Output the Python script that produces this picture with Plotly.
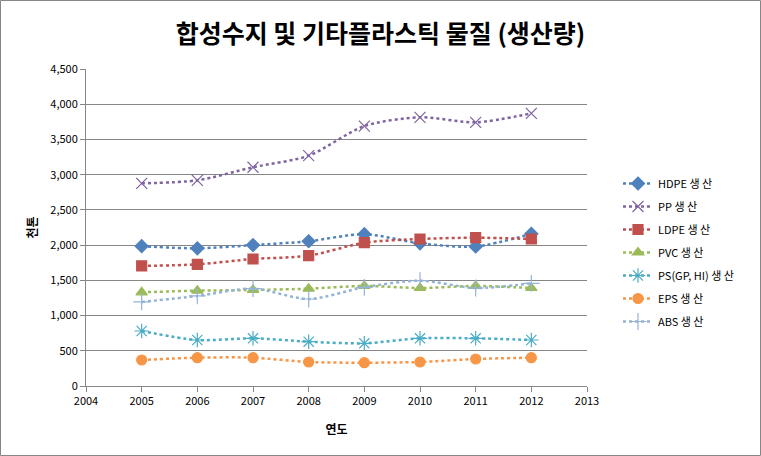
import plotly.graph_objects as go

years = [2005, 2006, 2007, 2008, 2009, 2010, 2011, 2012]
hdpe = [1985, 1955, 2000, 2055, 2155, 2025, 1980, 2160]
pp = [2877, 2920, 3105, 3270, 3690, 3814, 3743, 3870]
ldpe = [1704, 1727, 1803, 1850, 2034, 2087, 2105, 2087]
pvc = [1330, 1353, 1363, 1382, 1420, 1391, 1420, 1391]
ps = [781, 653, 677, 629, 606, 677, 677, 653]
eps = [369, 402, 402, 341, 331, 341, 383, 402]
abs_ = [1193, 1278, 1382, 1235, 1401, 1495, 1391, 1458]

names = ["HDPE 생 산", "PP 생 산", "LDPE 생 산", "PVC 생 산", "PS(GP, HI) 생 산", "EPS 생 산", "ABS 생 산"]
series = [hdpe, pp, ldpe, pvc, ps, eps, abs_]
colors = ["#4F81BD", "#8064A2", "#C0504D", "#9BBB59", "#4BACC6", "#F79646", "#95B3D7"]
symbols = ["diamond", "x-thin-open", "square", "triangle-up", "asterisk-open", "circle", "cross-thin-open"]
sizes = [10, 11, 10, 10, 12, 10, 12]

FONT = "Noto Sans CJK KR"
fig = go.Figure()
for i, (n, s) in enumerate(zip(names, series)):
    fig.add_trace(go.Scatter(
        x=years, y=s, name=n, mode="lines+markers",
        line=dict(color=colors[i], width=2.5, dash="dot", shape="spline", smoothing=0.8),
        marker=dict(symbol=symbols[i], size=sizes[i], color=colors[i],
                    line=dict(color=colors[i], width=1.2)),
        legendgroup="g%d" % i,
    ))

L, R, T, B = 86, 587, 69, 386
W, H = 761, 456
pw, ph = R - L, B - T

fig.update_layout(
    width=W, height=H,
    margin=dict(l=L, r=W - R, t=T, b=H - B, autoexpand=False),
    paper_bgcolor="white", plot_bgcolor="white",
    font=dict(family=FONT, size=11, color="#000000"),
    title=dict(text="<b>합성수지 및 기타플라스틱 물질 (생산량)</b>", x=0.5, xref="container",
               y=1 - 34 / H, yref="container", yanchor="middle", xanchor="center",
               font=dict(family=FONT, size=25, color="#000000")),
    xaxis=dict(range=[2004, 2013], dtick=1, tick0=2004, showgrid=False,
               showline=True, linecolor="#868686", linewidth=1,
               ticks="outside", ticklen=5, tickcolor="#868686",
               title=dict(text="<b>연도</b>", font=dict(size=12), standoff=18),
               zeroline=False, automargin=False),
    yaxis=dict(range=[0, 4500], dtick=500, tickformat=",", showgrid=True,
               gridcolor="#868686", gridwidth=1,
               showline=True, linecolor="#868686", linewidth=1,
               ticks="outside", ticklen=5, tickcolor="#868686",
               title=dict(text="<b>천톤</b>", font=dict(size=12), standoff=10),
               zeroline=False, automargin=False),
    legend=dict(x=(618 - L) / pw, y=(B - 169) / ph, xanchor="left", yanchor="top",
                font=dict(size=11), tracegroupgap=4, traceorder="grouped",
                bgcolor="rgba(0,0,0,0)"),
    shapes=[dict(type="rect", xref="paper", yref="paper",
                 x0=(0.5 - L) / pw, x1=(W - 0.5 - L) / pw,
                 y0=(B - (H - 0.5)) / ph, y1=(B - 0.5) / ph,
                 line=dict(color="#868686", width=1))],
)

fig.write_html("out.html", config={"displayModeBar": False},
               post_script="document.body.style.margin='0';document.body.style.padding='0';")
